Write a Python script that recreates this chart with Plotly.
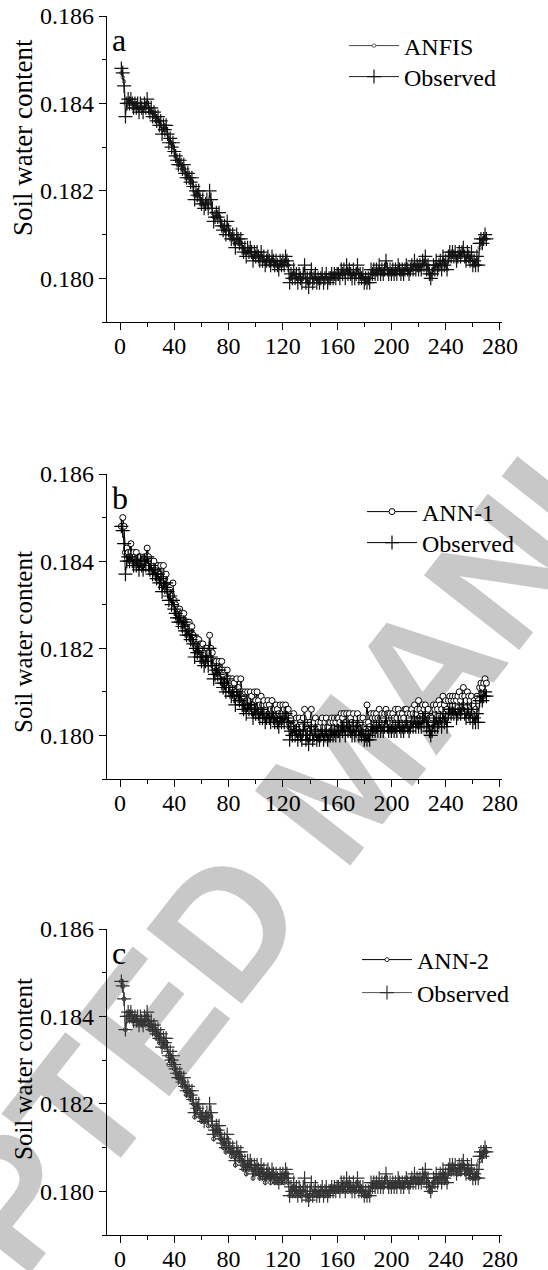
import plotly.graph_objects as go

days = list(range(1, 271))

observed = [
    0.1848, 0.1847, 0.1844, 0.1837, 0.1840, 0.1841, 0.1840, 0.1841, 0.1840, 0.1839,
    0.1840, 0.1839, 0.1840, 0.1838, 0.1840, 0.1839, 0.1838, 0.1840, 0.1839, 0.1841,
    0.1839, 0.1838, 0.1839, 0.1837, 0.1838, 0.1837, 0.1836, 0.1837, 0.1835, 0.1836,
    0.1833, 0.1835, 0.1834, 0.1835, 0.1833, 0.1831, 0.1832, 0.1830, 0.1831, 0.1829,
    0.1828, 0.1827, 0.1826, 0.1827, 0.1826, 0.1825, 0.1826, 0.1824, 0.1823, 0.1824,
    0.1823, 0.1822, 0.1823, 0.1821, 0.1818, 0.1820, 0.1819, 0.1820, 0.1818, 0.1817,
    0.1818, 0.1816, 0.1817, 0.1818, 0.1816, 0.1820, 0.1818, 0.1816, 0.1813, 0.1814,
    0.1815, 0.1814, 0.1815, 0.1813, 0.1812, 0.1811, 0.1812, 0.1810, 0.1813, 0.1811,
    0.1810, 0.1809, 0.1810, 0.1809, 0.1807, 0.1810, 0.1809, 0.1808, 0.1809, 0.1807,
    0.1806, 0.1807, 0.1805, 0.1807, 0.1806, 0.1807, 0.1806, 0.1804, 0.1806, 0.1805,
    0.1806, 0.1805, 0.1804, 0.1806, 0.1804, 0.1805, 0.1803, 0.1804, 0.1805, 0.1804,
    0.1803, 0.1805, 0.1804, 0.1803, 0.1804, 0.1803, 0.1802, 0.1804, 0.1803, 0.1804,
    0.1803, 0.1805, 0.1804, 0.1803, 0.1799, 0.1801, 0.1800, 0.1802, 0.1800, 0.1801,
    0.1799, 0.1801, 0.1800, 0.1799, 0.1801, 0.1803, 0.1799, 0.1800, 0.1798, 0.1800,
    0.1802, 0.1799, 0.1800, 0.1801, 0.1799, 0.1800, 0.1799, 0.1800, 0.1801, 0.1799,
    0.1800, 0.1801, 0.1799, 0.1800, 0.1800, 0.1801, 0.1800, 0.1801, 0.1800, 0.1801,
    0.1801, 0.1800, 0.1802, 0.1801, 0.1802, 0.1800, 0.1803, 0.1801, 0.1802, 0.1801,
    0.1800, 0.1802, 0.1800, 0.1801, 0.1803, 0.1800, 0.1801, 0.1800, 0.1801, 0.1799,
    0.1800, 0.1799, 0.1800, 0.1799, 0.1802, 0.1801, 0.1802, 0.1801, 0.1802, 0.1801,
    0.1803, 0.1801, 0.1802, 0.1801, 0.1802, 0.1804, 0.1802, 0.1801, 0.1802, 0.1801,
    0.1802, 0.1801, 0.1802, 0.1801, 0.1803, 0.1802, 0.1801, 0.1802, 0.1801, 0.1802,
    0.1803, 0.1802, 0.1801, 0.1802, 0.1803, 0.1802, 0.1804, 0.1802, 0.1803, 0.1802,
    0.1803, 0.1802, 0.1804, 0.1803, 0.1805, 0.1802, 0.1803, 0.1801, 0.1800, 0.1801,
    0.1803, 0.1802, 0.1804, 0.1802, 0.1803, 0.1804, 0.1802, 0.1805, 0.1803, 0.1804,
    0.1802, 0.1805, 0.1806, 0.1805, 0.1806, 0.1805, 0.1806, 0.1804, 0.1805, 0.1806,
    0.1805, 0.1806, 0.1807, 0.1805, 0.1804, 0.1806, 0.1805, 0.1804, 0.1806, 0.1803,
    0.1804, 0.1803, 0.1805, 0.1803, 0.1808, 0.1809, 0.1808, 0.1809, 0.1810, 0.1809,
]

anfis = [
    0.1847, 0.1846, 0.1845, 0.1840, 0.1839, 0.1840, 0.1841, 0.1840, 0.1840, 0.1840,
    0.1839, 0.1840, 0.1839, 0.1839, 0.1839, 0.1839, 0.1839, 0.1839, 0.1839, 0.1840,
    0.1839, 0.1838, 0.1838, 0.1838, 0.1837, 0.1837, 0.1836, 0.1836, 0.1836, 0.1835,
    0.1834, 0.1834, 0.1834, 0.1834, 0.1833, 0.1832, 0.1831, 0.1831, 0.1830, 0.1829,
    0.1828, 0.1827, 0.1827, 0.1826, 0.1826, 0.1825, 0.1825, 0.1824, 0.1824, 0.1823,
    0.1823, 0.1822, 0.1822, 0.1821, 0.1819, 0.1819, 0.1819, 0.1819, 0.1818, 0.1817,
    0.1817, 0.1817, 0.1817, 0.1817, 0.1816, 0.1818, 0.1817, 0.1815, 0.1814, 0.1814,
    0.1814, 0.1814, 0.1814, 0.1813, 0.1812, 0.1812, 0.1811, 0.1811, 0.1812, 0.1811,
    0.1810, 0.1810, 0.1809, 0.1809, 0.1808, 0.1809, 0.1808, 0.1808, 0.1808, 0.1807,
    0.1807, 0.1806, 0.1806, 0.1806, 0.1806, 0.1806, 0.1805, 0.1805, 0.1805, 0.1805,
    0.1805, 0.1805, 0.1804, 0.1805, 0.1804, 0.1804, 0.1804, 0.1804, 0.1804, 0.1804,
    0.1803, 0.1804, 0.1804, 0.1803, 0.1803, 0.1803, 0.1803, 0.1803, 0.1803, 0.1803,
    0.1803, 0.1804, 0.1803, 0.1803, 0.1800, 0.1801, 0.1800, 0.1801, 0.1800, 0.1800,
    0.1800, 0.1800, 0.1800, 0.1800, 0.1800, 0.1801, 0.1800, 0.1800, 0.1799, 0.1800,
    0.1801, 0.1800, 0.1800, 0.1800, 0.1800, 0.1800, 0.1800, 0.1800, 0.1800, 0.1800,
    0.1800, 0.1800, 0.1800, 0.1800, 0.1800, 0.1801, 0.1800, 0.1801, 0.1801, 0.1801,
    0.1801, 0.1801, 0.1801, 0.1801, 0.1801, 0.1801, 0.1802, 0.1801, 0.1801, 0.1801,
    0.1801, 0.1801, 0.1801, 0.1801, 0.1802, 0.1801, 0.1801, 0.1800, 0.1800, 0.1800,
    0.1800, 0.1800, 0.1800, 0.1800, 0.1801, 0.1801, 0.1801, 0.1801, 0.1801, 0.1801,
    0.1802, 0.1801, 0.1801, 0.1802, 0.1801, 0.1803, 0.1802, 0.1801, 0.1802, 0.1801,
    0.1802, 0.1801, 0.1802, 0.1801, 0.1802, 0.1802, 0.1801, 0.1802, 0.1802, 0.1802,
    0.1802, 0.1802, 0.1802, 0.1802, 0.1802, 0.1802, 0.1803, 0.1802, 0.1803, 0.1802,
    0.1803, 0.1802, 0.1803, 0.1803, 0.1804, 0.1802, 0.1803, 0.1801, 0.1801, 0.1801,
    0.1802, 0.1802, 0.1803, 0.1802, 0.1803, 0.1803, 0.1802, 0.1804, 0.1803, 0.1803,
    0.1802, 0.1804, 0.1805, 0.1805, 0.1805, 0.1805, 0.1805, 0.1804, 0.1805, 0.1805,
    0.1805, 0.1805, 0.1806, 0.1805, 0.1804, 0.1805, 0.1805, 0.1804, 0.1805, 0.1803,
    0.1804, 0.1803, 0.1804, 0.1803, 0.1807, 0.1808, 0.1808, 0.1809, 0.1809, 0.1809,
]

ann1 = [
    0.1848, 0.1850, 0.1848, 0.1842, 0.1843, 0.1842, 0.1841, 0.1844, 0.1841, 0.1842,
    0.1841, 0.1842, 0.1840, 0.1841, 0.1841, 0.1840, 0.1840, 0.1841, 0.1841, 0.1843,
    0.1841, 0.1840, 0.1840, 0.1839, 0.1840, 0.1838, 0.1838, 0.1839, 0.1837, 0.1839,
    0.1835, 0.1839, 0.1836, 0.1837, 0.1834, 0.1833, 0.1834, 0.1832, 0.1835, 0.1831,
    0.1830, 0.1829, 0.1828, 0.1829, 0.1828, 0.1827, 0.1828, 0.1826, 0.1826, 0.1826,
    0.1826, 0.1824, 0.1825, 0.1823, 0.1821, 0.1822, 0.1821, 0.1822, 0.1821, 0.1820,
    0.1821, 0.1819, 0.1820, 0.1820, 0.1819, 0.1823, 0.1820, 0.1819, 0.1816, 0.1817,
    0.1817, 0.1816, 0.1817, 0.1815, 0.1817, 0.1814, 0.1815, 0.1813, 0.1815, 0.1813,
    0.1813, 0.1812, 0.1813, 0.1812, 0.1810, 0.1813, 0.1811, 0.1810, 0.1813, 0.1810,
    0.1809, 0.1810, 0.1808, 0.1810, 0.1808, 0.1810, 0.1809, 0.1807, 0.1810, 0.1808,
    0.1810, 0.1808, 0.1807, 0.1809, 0.1807, 0.1808, 0.1806, 0.1807, 0.1808, 0.1807,
    0.1806, 0.1808, 0.1806, 0.1806, 0.1807, 0.1806, 0.1805, 0.1807, 0.1805, 0.1807,
    0.1806, 0.1807, 0.1806, 0.1806, 0.1802, 0.1804, 0.1802, 0.1805, 0.1803, 0.1804,
    0.1802, 0.1804, 0.1803, 0.1802, 0.1804, 0.1806, 0.1802, 0.1803, 0.1801, 0.1803,
    0.1806, 0.1802, 0.1803, 0.1804, 0.1802, 0.1803, 0.1802, 0.1803, 0.1804, 0.1802,
    0.1803, 0.1804, 0.1802, 0.1803, 0.1803, 0.1804, 0.1803, 0.1804, 0.1803, 0.1804,
    0.1804, 0.1803, 0.1805, 0.1804, 0.1805, 0.1803, 0.1805, 0.1804, 0.1805, 0.1804,
    0.1803, 0.1805, 0.1803, 0.1804, 0.1805, 0.1803, 0.1804, 0.1803, 0.1804, 0.1802,
    0.1803, 0.1807, 0.1803, 0.1802, 0.1805, 0.1804, 0.1805, 0.1804, 0.1805, 0.1804,
    0.1806, 0.1804, 0.1805, 0.1804, 0.1805, 0.1806, 0.1805, 0.1804, 0.1805, 0.1804,
    0.1805, 0.1804, 0.1806, 0.1804, 0.1806, 0.1805, 0.1804, 0.1805, 0.1804, 0.1806,
    0.1806, 0.1805, 0.1804, 0.1805, 0.1806, 0.1805, 0.1807, 0.1805, 0.1806, 0.1808,
    0.1806, 0.1805, 0.1807, 0.1806, 0.1807, 0.1805, 0.1806, 0.1804, 0.1803, 0.1804,
    0.1807, 0.1806, 0.1807, 0.1806, 0.1808, 0.1807, 0.1806, 0.1809, 0.1807, 0.1808,
    0.1806, 0.1808, 0.1809, 0.1808, 0.1809, 0.1808, 0.1809, 0.1808, 0.1809, 0.1810,
    0.1808, 0.1809, 0.1811, 0.1809, 0.1808, 0.1810, 0.1809, 0.1808, 0.1809, 0.1807,
    0.1808, 0.1806, 0.1809, 0.1808, 0.1811, 0.1812, 0.1811, 0.1812, 0.1813, 0.1812,
]

ann2 = [
    0.1848, 0.1847, 0.1844, 0.1837, 0.1839, 0.1840, 0.1841, 0.1840, 0.1839, 0.1839,
    0.1840, 0.1839, 0.1839, 0.1838, 0.1839, 0.1839, 0.1838, 0.1839, 0.1839, 0.1840,
    0.1838, 0.1837, 0.1838, 0.1837, 0.1837, 0.1836, 0.1835, 0.1836, 0.1834, 0.1835,
    0.1833, 0.1834, 0.1833, 0.1834, 0.1831, 0.1829, 0.1831, 0.1829, 0.1830, 0.1828,
    0.1827, 0.1826, 0.1826, 0.1827, 0.1825, 0.1824, 0.1825, 0.1823, 0.1822, 0.1823,
    0.1822, 0.1821, 0.1822, 0.1820, 0.1817, 0.1819, 0.1818, 0.1818, 0.1817, 0.1816,
    0.1817, 0.1816, 0.1816, 0.1817, 0.1815, 0.1818, 0.1817, 0.1815, 0.1812, 0.1813,
    0.1814, 0.1813, 0.1814, 0.1812, 0.1811, 0.1810, 0.1811, 0.1809, 0.1811, 0.1810,
    0.1809, 0.1808, 0.1809, 0.1808, 0.1806, 0.1809, 0.1808, 0.1807, 0.1808, 0.1806,
    0.1805, 0.1806, 0.1804, 0.1806, 0.1805, 0.1806, 0.1805, 0.1803, 0.1805, 0.1804,
    0.1805, 0.1804, 0.1803, 0.1805, 0.1803, 0.1804, 0.1802, 0.1803, 0.1804, 0.1803,
    0.1802, 0.1804, 0.1803, 0.1802, 0.1803, 0.1802, 0.1802, 0.1803, 0.1802, 0.1803,
    0.1802, 0.1804, 0.1803, 0.1802, 0.1799, 0.1800, 0.1799, 0.1801, 0.1799, 0.1800,
    0.1799, 0.1800, 0.1799, 0.1799, 0.1800, 0.1801, 0.1799, 0.1799, 0.1798, 0.1799,
    0.1800, 0.1799, 0.1799, 0.1800, 0.1799, 0.1799, 0.1799, 0.1800, 0.1800, 0.1799,
    0.1799, 0.1800, 0.1799, 0.1800, 0.1800, 0.1801, 0.1800, 0.1800, 0.1800, 0.1801,
    0.1800, 0.1800, 0.1801, 0.1800, 0.1801, 0.1800, 0.1802, 0.1800, 0.1801, 0.1801,
    0.1800, 0.1801, 0.1800, 0.1800, 0.1802, 0.1800, 0.1801, 0.1800, 0.1800, 0.1799,
    0.1799, 0.1799, 0.1799, 0.1799, 0.1801, 0.1801, 0.1802, 0.1801, 0.1802, 0.1801,
    0.1802, 0.1801, 0.1802, 0.1801, 0.1802, 0.1803, 0.1802, 0.1801, 0.1802, 0.1801,
    0.1802, 0.1801, 0.1802, 0.1801, 0.1802, 0.1802, 0.1801, 0.1802, 0.1801, 0.1802,
    0.1802, 0.1802, 0.1801, 0.1802, 0.1802, 0.1802, 0.1803, 0.1802, 0.1802, 0.1802,
    0.1802, 0.1802, 0.1803, 0.1802, 0.1804, 0.1802, 0.1802, 0.1800, 0.1800, 0.1801,
    0.1802, 0.1802, 0.1803, 0.1802, 0.1803, 0.1803, 0.1802, 0.1804, 0.1802, 0.1803,
    0.1802, 0.1804, 0.1805, 0.1804, 0.1805, 0.1805, 0.1805, 0.1804, 0.1804, 0.1805,
    0.1804, 0.1805, 0.1806, 0.1805, 0.1804, 0.1805, 0.1804, 0.1803, 0.1805, 0.1803,
    0.1803, 0.1803, 0.1804, 0.1803, 0.1807, 0.1808, 0.1808, 0.1808, 0.1809, 0.1809,
]

panel_letters = ["a", "b", "c"]
model_names = ["ANFIS", "ANN-1", "ANN-2"]
model_series = [anfis, ann1, ann2]
x_ticks = [0, 40, 80, 120, 160, 200, 240, 280]
y_ticks = [0.180, 0.182, 0.184, 0.186]
y_title = "Soil water content"
watermark = "ACCEPTED MANUSCRIPT"

W, H = 548, 1270
FONT = "Liberation Serif"

# panel pixel geometry (top, bottom of plot area)
panels_px = [(16, 322), (474, 779), (929, 1235)]
x_left_px, x_right_px = 107, 502
title_cy = [138, 642, 1069]
title_size = [27, 25, 25]

model_style = [
    dict(line="#444444", mk=3.5, mkline=0.8, obs_line="#222222", obs_mk="#111111"),
    dict(line="#000000", mk=6, mkline=1.0, obs_line="#000000", obs_mk="#000000"),
    dict(line="#000000", mk=4, mkline=0.8, obs_line="#555555", obs_mk="#333333"),
]
# (legend text left x, model row y, observed row y)
legend_px = [(405, 46, 77), (423, 512, 543), (418, 960, 993)]
LEG_IW = 50

fig = go.Figure()
layout = dict(
    template="none",
    width=W, height=H,
    margin=dict(l=0, r=0, t=0, b=0, pad=0),
    paper_bgcolor="white", plot_bgcolor="rgba(0,0,0,0)",
    font=dict(family=FONT, size=24, color="black"),
    showlegend=True,
)
annotations = []

for i in range(3):
    top, bot = panels_px[i]
    sfx = "" if i == 0 else str(i + 1)
    xa, ya = "x" + sfx, "y" + sfx
    leg_m = "legend" + ("" if i == 0 else str(2 * i + 1))
    leg_o = "legend" + str(2 * i + 2)
    st = model_style[i]
    fig.add_trace(go.Scatter(
        x=days, y=model_series[i], xaxis=xa, yaxis=ya, name=model_names[i],
        mode="lines+markers", legend=leg_m,
        line=dict(color=st["line"], width=1),
        marker=dict(symbol="circle", size=st["mk"], color="white",
                    line=dict(color=st["line"], width=st["mkline"])),
    ))
    fig.add_trace(go.Scatter(
        x=days, y=observed, xaxis=xa, yaxis=ya, name="Observed",
        mode="lines+markers", legend=leg_o,
        line=dict(color=st["obs_line"], width=1),
        marker=dict(symbol="cross-thin", size=10,
                    line=dict(color=st["obs_mk"], width=1.2)),
    ))
    axis_common = dict(showline=True, linecolor="black", linewidth=1.2,
                       ticks="outside", ticklen=7, tickwidth=1.2, tickcolor="black",
                       showgrid=False, zeroline=False, mirror=False, automargin=False,
                       tickfont=dict(family=FONT, size=24, color="black"))
    layout["xaxis" + sfx] = dict(
        axis_common, anchor=ya, domain=[x_left_px / W, x_right_px / W],
        range=[-9.6, 281.5], tickmode="array", tickvals=x_ticks,
        ticktext=[str(v) for v in x_ticks], ticklabelstandoff=-5,
        minor=dict(ticks="outside", ticklen=4, dtick=20, tick0=0, tickcolor="black", tickwidth=1.2),
    )
    layout["yaxis" + sfx] = dict(
        axis_common, anchor=xa, domain=[1 - bot / H, 1 - top / H],
        range=[0.179, 0.186], tickmode="array", tickvals=y_ticks,
        ticktext=["%.3f" % v for v in y_ticks],
        minor=dict(ticks="outside", ticklen=4, dtick=0.001, tick0=0.179, tickcolor="black", tickwidth=1.2),
    )
    tx, ry_m, ry_o = legend_px[i]
    for leg, ry in ((leg_m, ry_m), (leg_o, ry_o)):
        layout[leg] = dict(x=(tx - LEG_IW - 11) / W, y=1 - ry / H, xanchor="left", yanchor="middle",
                           bgcolor="rgba(0,0,0,0)", font=dict(family=FONT, size=24, color="black"),
                           itemwidth=LEG_IW)
    annotations.append(dict(text=panel_letters[i], xref="paper", yref="paper",
                            x=110 / W, y=1 - (top + 24) / H, xanchor="left", yanchor="middle",
                            showarrow=False, font=dict(family=FONT, size=32, color="black")))
    annotations.append(dict(text=y_title, xref="paper", yref="paper", textangle=-90,
                            x=23 / W, y=1 - title_cy[i] / H,
                            xanchor="center", yanchor="middle", showarrow=False,
                            font=dict(family=FONT, size=title_size[i], color="black")))

# diagonal watermark, drawn beneath the data
cx, cy = 330, 765
dx, dy = 62, -79
layout["shapes"] = [dict(
    type="line", xref="paper", yref="paper", layer="below",
    x0=(cx - dx) / W, y0=1 - (cy - dy) / H, x1=(cx + dx) / W, y1=1 - (cy + dy) / H,
    line=dict(width=0, color="rgba(0,0,0,0)"),
    label=dict(text=watermark, textposition="middle", yanchor="middle",
               font=dict(family="Liberation Sans", size=176, color="#c8c8c8", weight="bold")),
)]

layout["annotations"] = annotations
fig.update_layout(**layout)
fig.write_html("out.html", config={"displayModeBar": False},
               post_script="document.body.style.margin='0px';")
